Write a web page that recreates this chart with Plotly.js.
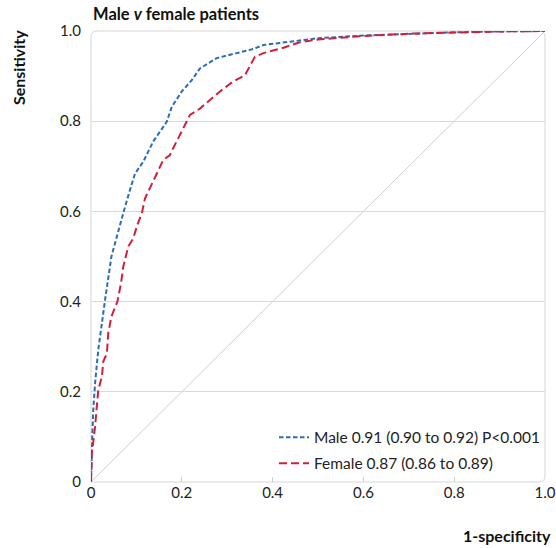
<!DOCTYPE html>
<html><head><meta charset="utf-8">
<script src="https://cdn.plot.ly/plotly-3.0.1.min.js"></script>
<style>html,body{margin:0;padding:0;background:#fff;}</style>
</head><body><div id="chart" style="width:556px;height:548px;"></div>
<script>
var maleFPR = [0,0.001,0.003,0.005,0.009,0.016,0.024,0.031,0.045,0.058,0.071,0.085,0.097,0.115,0.137,0.167,0.178,0.200,0.222,0.240,0.277,0.321,0.357,0.380,0.460,0.500,0.600,0.700,0.800,0.900,1.0];
var maleTPR = [0,0.050,0.108,0.160,0.219,0.293,0.359,0.404,0.500,0.550,0.596,0.645,0.684,0.710,0.755,0.799,0.832,0.866,0.891,0.917,0.940,0.951,0.960,0.969,0.980,0.984,0.990,0.994,0.997,0.999,1.0];
var femaleFPR = [0,0.002,0.009,0.012,0.016,0.024,0.027,0.035,0.038,0.045,0.058,0.066,0.071,0.082,0.093,0.102,0.112,0.119,0.132,0.145,0.159,0.174,0.181,0.207,0.218,0.240,0.284,0.313,0.339,0.361,0.380,0.424,0.460,0.500,0.600,0.700,0.800,0.900,1.0];
var femaleTPR = [0,0.064,0.123,0.167,0.204,0.234,0.267,0.285,0.330,0.367,0.400,0.440,0.477,0.522,0.540,0.570,0.596,0.629,0.655,0.684,0.714,0.725,0.740,0.792,0.814,0.828,0.866,0.888,0.902,0.943,0.951,0.963,0.975,0.981,0.989,0.994,0.997,0.999,1.0];
var maleLabel = "Male 0.91 (0.90 to 0.92) P&lt;0.001";
var femaleLabel = "Female 0.87 (0.86 to 0.89)";
var tickVals = [0,0.2,0.4,0.6,0.8,1.0];
var tickText = ["0","0.2","0.4","0.6","0.8","1.0"];

var FONT = "Lato, 'Open Sans', sans-serif";
var traces = [
  {x: maleFPR, y: maleTPR, mode: "lines", name: maleLabel, legendgroup: "m",
   line: {color: "#2a6db5", width: 2, dash: "4.5px,2.5px"}},
  {x: femaleFPR, y: femaleTPR, mode: "lines", name: femaleLabel, legendgroup: "f",
   line: {color: "#d21f3c", width: 2, dash: "8px,4px"}}
];
var rx = 6/454, ry = 6/451;
var framePath = "M " + 0 + " " + (1-ry) + " Q 0 1 " + rx + " 1 L " + (1-rx) + " 1 Q 1 1 1 " + (1-ry) +
  " L 1 " + ry + " Q 1 0 " + (1-rx) + " 0 L 0 0 Z";
var layout = {
  width: 556, height: 548,
  margin: {l: 91, r: 11, t: 31, b: 66},
  paper_bgcolor: "#fff", plot_bgcolor: "#fff",
  font: {family: FONT, size: 15, color: "#222"},
  showlegend: true,
  legend: {x: 1, xanchor: "right", y: 0.003, yanchor: "bottom", bgcolor: "rgba(0,0,0,0)",
           font: {family: FONT, size: 15.5, color: "#222"}, traceorder: "grouped", tracegroupgap: 3},
  xaxis: {range: [0, 1], tickvals: tickVals, ticktext: tickText, showgrid: false, zeroline: false,
          showline: false, ticks: "inside", ticklen: 5, tickcolor: "#d0d0d0", tickfont: {size: 15, color: "#222"},
          fixedrange: true},
  yaxis: {range: [0, 1], tickvals: tickVals, ticktext: tickText, showgrid: true, gridcolor: "#d9d9d9",
          zeroline: false, showline: false, ticks: "", ticklabelstandoff: 9, tickfont: {size: 15, color: "#222"}, fixedrange: true},
  shapes: [
    {type: "path", xref: "paper", yref: "paper", path: framePath, line: {color: "#d6d6d6", width: 1}, layer: "below"},
    {type: "line", xref: "x", yref: "y", x0: 0, y0: 0, x1: 1, y1: 1, line: {color: "#cfcfcf", width: 1}, layer: "below"}
  ],
  annotations: [
    {text: "<b>Male <i>v</i> female patients</b>", xref: "paper", yref: "paper", x: 0, y: 1, xanchor: "left", yanchor: "bottom",
     yshift: 5, showarrow: false, font: {family: FONT, size: 16.5, color: "#111"}},
    {text: "<b>Sensitivity</b>", xref: "paper", yref: "paper", x: 0, xshift: -73, xanchor: "center", y: 1, yshift: -37,
     yanchor: "middle", textangle: -90, showarrow: false, font: {family: FONT, size: 16, color: "#111"}},
    {text: "<b>1-specificity</b>", xref: "paper", yref: "paper", x: 1, xshift: 8, xanchor: "right", y: 0, yshift: -53,
     yanchor: "middle", showarrow: false, font: {family: FONT, size: 16, color: "#111"}}
  ]
};
Plotly.newPlot("chart", traces, layout, {displayModeBar: false, staticPlot: true});
</script></body></html>
